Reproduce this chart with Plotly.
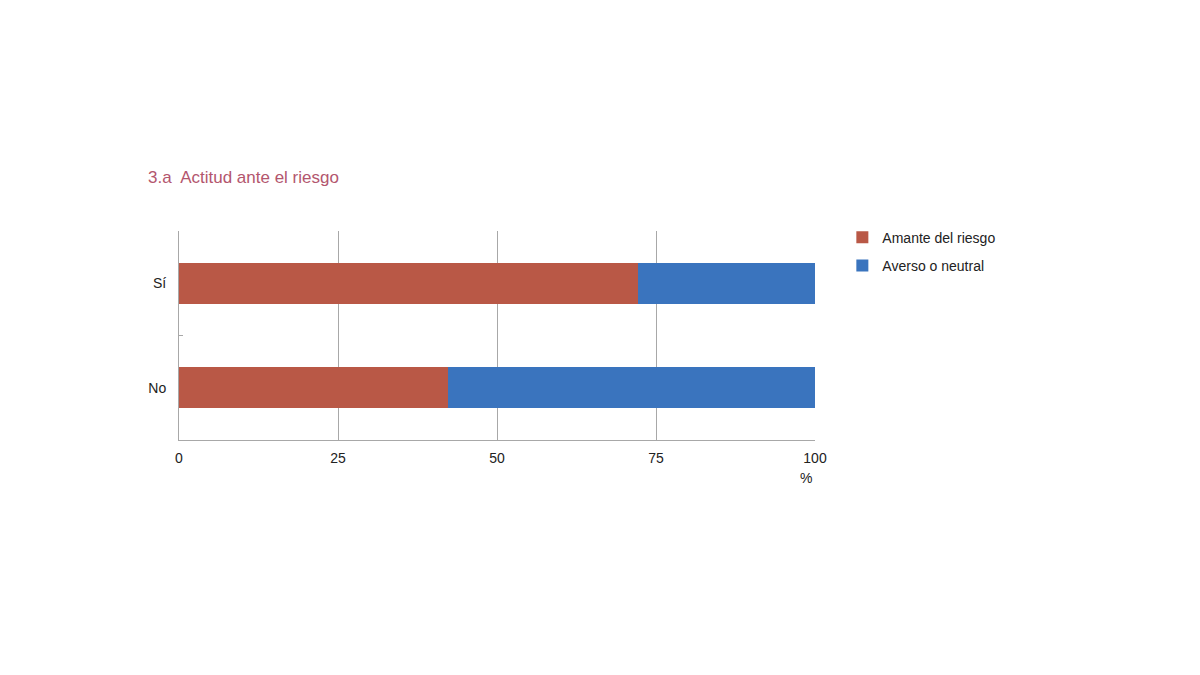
import plotly.graph_objects as go

categories = ["Sí", "No"]
amante = [72.2, 42.3]
averso = [27.8, 57.7]
x_ticks = [0, 25, 50, 75, 100]

RED = "#B95846"
BLUE = "#3A74BE"
FONT = "Liberation Sans, Arial, sans-serif"

L, T, PW, PH = 171, 223, 636, 209
OFF = 8  # page body margin

fig = go.Figure()
fig.add_trace(go.Bar(y=categories, x=amante, name="Amante del riesgo", orientation="h",
                     marker=dict(color=RED, line=dict(width=0)), legendgroup="a"))
fig.add_trace(go.Bar(y=categories, x=averso, name="Averso o neutral", orientation="h",
                     marker=dict(color=BLUE, line=dict(width=0)), legendgroup="b"))


def px(xp):
    return (xp - OFF - L) / PW


def py(yp):
    return (T + PH - (yp - OFF)) / PH


fig.update_layout(
    barmode="stack",
    bargap=0.61,
    width=1200, height=675,
    margin=dict(l=L, r=1200 - L - PW, t=T, b=675 - T - PH),
    paper_bgcolor="white", plot_bgcolor="white",
    font=dict(family=FONT, size=14.5, color="#222"),
    showlegend=True,
    legend=dict(x=1.043, y=1.045, xanchor="left", yanchor="top",
                font=dict(size=14, color="#222"), tracegroupgap=7,
                itemwidth=30, traceorder="grouped"),
)
fig.add_annotation(text="3.a  Actitud ante el riesgo", xref="paper", yref="paper",
                   x=px(146), y=py(178), xanchor="left", yanchor="middle",
                   showarrow=False, font=dict(size=17, color="#B3566E", family=FONT))
fig.add_annotation(text="%", xref="paper", yref="paper",
                   x=px(806), y=py(478), xanchor="center", yanchor="middle",
                   showarrow=False, font=dict(size=14, color="#222", family=FONT))

fig.update_xaxes(range=[0, 100], tickvals=x_ticks, ticktext=[str(v) for v in x_ticks],
                 showgrid=True, gridcolor="#A8A8A8", gridwidth=1,
                 showline=True, linecolor="#A8A8A8", linewidth=1,
                 zeroline=False, ticks="", ticklabelstandoff=5,
                 tickfont=dict(size=14, color="#222"))
fig.update_yaxes(categoryorder="array", categoryarray=["No", "Sí"], range=[-0.5, 1.5],
                 showgrid=False, showline=True, linecolor="#A8A8A8", linewidth=1,
                 ticks="inside", ticklen=4, tickcolor="#A8A8A8", tickson="boundaries",
                 ticklabelstandoff=9, tickfont=dict(size=14, color="#222"))

fig.write_html("out.html")
